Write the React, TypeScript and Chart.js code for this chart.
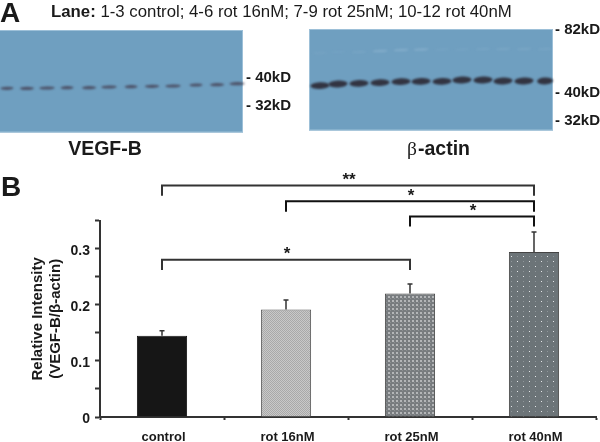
import React, { useEffect, useRef } from "react";
import { Chart, registerables } from "chart.js";

Chart.register(...registerables);

const categories = ["control", "rot 16nM", "rot 25nM", "rot 40nM"];
const meanValues = [0.1447, 0.1915, 0.22, 0.294];
const errorTops = [0.154, 0.2087, 0.237, 0.3297];
const yTickLabels = [0, 0.1, 0.2, 0.3];
const bracketFrom = ["control", "rot 16nM", "rot 25nM", "control"];
const bracketTo = ["rot 40nM", "rot 40nM", "rot 40nM", "rot 25nM"];
const bracketLevel = [0.4128, 0.3849, 0.3577, 0.2805];
const bracketFoot = [0.3945, 0.366, 0.3395, 0.262];
const bracketStars = ["**", "*", "*", "*"];

const vegfLaneX = [7, 27, 47, 67, 89, 109, 131, 152, 173, 196, 217, 237];
const vegfLaneY = [88.3, 88.4, 88, 87.7, 87.7, 87, 86.7, 86.3, 86, 85, 84.7, 83.7];
const actinLaneX = [320, 338, 359, 380, 401, 421, 442, 462, 483, 503, 524, 545];
const actinLaneY = [85.7, 84, 83.3, 82.7, 81.7, 81.3, 81.3, 80, 80, 81, 81, 81];
const actinFaintY = [53, 52, 52, 51, 50, 49.5, 49.5, 49.5, 49, 49, 49, 49];
const actinFaintAlpha = [0.06, 0.05, 0.08, 0.2, 0.2, 0.2, 0.06, 0.06, 0.08, 0.1, 0.1, 0.08];

function makePattern(kind: string, ctx: CanvasRenderingContext2D) {
  const c = document.createElement("canvas");
  const g = c.getContext("2d")!;
  if (kind === "fine") {
    c.width = 2; c.height = 2;
    g.fillStyle = "#c9c9c9"; g.fillRect(0, 0, 2, 2);
    g.fillStyle = "#a9a9a9"; g.fillRect(0, 0, 1, 1); g.fillRect(1, 1, 1, 1);
  } else if (kind === "dither") {
    c.width = 4; c.height = 4;
    g.fillStyle = "#787c7f"; g.fillRect(0, 0, 4, 4);
    g.fillStyle = "#b4b6b8"; g.fillRect(0, 0, 2, 2);
    g.fillStyle = "#8c9092"; g.fillRect(2, 2, 1, 1);
  } else {
    c.width = 12; c.height = 10;
    g.fillStyle = "#6c7478"; g.fillRect(0, 0, 12, 10);
    g.fillStyle = "#e4e6e8"; g.fillRect(1, 1, 1, 1); g.fillRect(7, 6, 1, 1);
    g.fillStyle = "#8e9599"; g.fillRect(7, 1, 1, 1); g.fillRect(1, 6, 1, 1);
  }
  return ctx.createPattern(c, "repeat")!;
}

function drawBlot(ctx: CanvasRenderingContext2D, x: number, y: number, w: number, h: number) {
  ctx.fillStyle = "#6f9fc0";
  ctx.fillRect(x, y, w, h);
  ctx.strokeStyle = "#9dc0d8";
  ctx.lineWidth = 1;
  ctx.strokeRect(x + 0.5, y + 0.5, w - 1, h - 1);
}

const figurePlugin = {
  id: "figure",
  beforeDraw(chart: any) {
    const ctx: CanvasRenderingContext2D = chart.ctx;
    ctx.save();
    ctx.fillStyle = "#fff";
    ctx.fillRect(0, 0, 600, 442);
    drawBlot(ctx, -2, 30, 245, 102.5);
    drawBlot(ctx, 309, 29, 244, 101.5);

    ctx.filter = "blur(0.8px)";
    vegfLaneX.forEach((x, i) => {
      ctx.fillStyle = "rgba(70,66,86,0.82)";
      ctx.beginPath();
      ctx.ellipse(x, vegfLaneY[i], 6.5 + (i % 3) * 0.6, 1.6, -0.02, 0, Math.PI * 2);
      ctx.fill();
    });
    actinLaneX.forEach((x, i) => {
      ctx.fillStyle = "rgba(44,42,54,0.92)";
      ctx.beginPath();
      ctx.ellipse(x, actinLaneY[i], i === 11 ? 8 : 9.6, 3.4, -0.04, 0, Math.PI * 2);
      ctx.fill();
      ctx.fillStyle = `rgba(205,225,240,${actinFaintAlpha[i]})`;
      ctx.beginPath();
      ctx.ellipse(x, actinFaintY[i], 7.5, 1.3, -0.05, 0, Math.PI * 2);
      ctx.fill();
    });
    ctx.filter = "none";

    const text = (s: string, x: number, y: number, font: string, align: CanvasTextAlign = "left") => {
      ctx.font = font;
      ctx.textAlign = align;
      ctx.textBaseline = "middle";
      ctx.fillStyle = "#1a1a1a";
      ctx.fillText(s, x, y);
    };
    const sans = '"Liberation Sans", Arial, sans-serif';
    text("A", 0, 14, `bold 28px ${sans}`);
    text("B", 1, 188, `bold 28px ${sans}`);
    text("Lane:", 51, 12.5, `bold 16.8px ${sans}`);
    const laneW = ctx.measureText("Lane: ").width;
    text("1-3 control; 4-6 rot 16nM; 7-9 rot 25nM; 10-12 rot 40nM", 51 + laneW, 12.5, `16.8px ${sans}`);
    text("- 40kD", 246, 78, `bold 15px ${sans}`);
    text("- 32kD", 246, 105.5, `bold 15px ${sans}`);
    text("- 82kD", 555, 30, `bold 15px ${sans}`);
    text("- 40kD", 555, 93, `bold 15px ${sans}`);
    text("- 32kD", 555, 121, `bold 15px ${sans}`);
    text("VEGF-B", 105, 150, `bold 19.5px ${sans}`, "center");
    text("β", 407, 150, '19.5px "Liberation Serif", serif');
    text("-actin", 418, 150, `bold 19.5px ${sans}`);
    ctx.restore();
  },
  afterDatasetsDraw(chart: any) {
    const ctx: CanvasRenderingContext2D = chart.ctx;
    const xs = chart.scales.x;
    const ys = chart.scales.y;
    ctx.save();
    ctx.strokeStyle = "#333";
    ctx.lineWidth = 1.5;
    categories.forEach((c, i) => {
      const x = xs.getPixelForValue(i);
      const top = ys.getPixelForValue(errorTops[i]);
      const base = ys.getPixelForValue(meanValues[i]);
      ctx.beginPath();
      ctx.moveTo(x, base);
      ctx.lineTo(x, top);
      ctx.moveTo(x - 2.5, top);
      ctx.lineTo(x + 2.5, top);
      ctx.stroke();
    });
    ctx.fillStyle = "#1a1a1a";
    ctx.font = 'bold 17px "Liberation Sans", Arial, sans-serif';
    ctx.textAlign = "center";
    ctx.textBaseline = "middle";
    bracketStars.forEach((s, i) => {
      const a = xs.getPixelForValue(categories.indexOf(bracketFrom[i]));
      const b = xs.getPixelForValue(categories.indexOf(bracketTo[i]));
      ctx.fillText(s, (a + b) / 2 + 1, ys.getPixelForValue(bracketLevel[i]) - 5);
    });
    ctx.restore();
  },
};

export default function App() {
  const ref = useRef<HTMLCanvasElement>(null);
  useEffect(() => {
    document.body.style.margin = "0";
    const canvas = ref.current!;
    const ctx = canvas.getContext("2d")!;
    const barFills: any[] = [
      "#161616",
      makePattern("fine", ctx),
      makePattern("dither", ctx),
      makePattern("dots", ctx),
    ];
    const bracketSets = bracketFrom.map((from, i) => ({
      type: "line" as const,
      data: [
        { x: from, y: bracketFoot[i] },
        { x: from, y: bracketLevel[i] },
        { x: bracketTo[i], y: bracketLevel[i] },
        { x: bracketTo[i], y: bracketFoot[i] },
      ],
      borderColor: i === 1 || i === 2 ? "#111" : "#333",
      borderWidth: 2,
      pointRadius: 0,
      tension: 0,
      clip: false as any,
      order: 0,
    }));
    const chart = new Chart(canvas, {
      type: "bar",
      data: {
        labels: categories,
        datasets: [
          {
            data: meanValues,
            backgroundColor: barFills,
            borderColor: ["#161616", "#555", "#444", "#444"],
            borderWidth: 1,
            barPercentage: 0.405,
            categoryPercentage: 1,
            order: 1,
          } as any,
          ...(bracketSets as any[]),
        ],
      },
      options: {
        responsive: false,
        animation: false,
        devicePixelRatio: 1,
        layout: { padding: { top: 220.7, right: 4, left: 0, bottom: 0 } },
        plugins: { legend: { display: false }, tooltip: { enabled: false }, title: { display: false } },
        scales: {
          x: {
            type: "category",
            afterFit: (s: any) => { s.height = 25; },
            grid: { display: true, drawOnChartArea: false, offset: true, tickLength: 3, tickWidth: 2, tickColor: "#333" },
            border: { color: "#333", width: 2 },
            ticks: {
              color: "#1a1a1a",
              padding: 10,
              labelOffset: 1.5,
              maxRotation: 0,
              font: { family: '"Liberation Sans", Arial, sans-serif', weight: "bold", size: 13 },
            },
          },
          y: {
            min: 0,
            max: 0.35,
            afterFit: (s: any) => { s.width = 100; },
            grid: { display: true, drawOnChartArea: false, tickLength: 5, tickWidth: 2, tickColor: "#333" },
            border: { color: "#333", width: 2 },
            title: {
              display: true,
              text: ["Relative Intensity", "(VEGF-B/β-actin)"],
              color: "#1a1a1a",
              padding: { top: 29, bottom: 0 },
              font: { family: '"Liberation Sans", Arial, sans-serif', weight: "bold", size: 15, lineHeight: 1.2 },
            },
            ticks: {
              stepSize: 0.05,
              padding: 5,
              labelOffset: 2,
              color: "#1a1a1a",
              font: { family: '"Liberation Sans", Arial, sans-serif', weight: "bold", size: 14 },
              callback: (v: any) => {
                const r = Math.round(Number(v) * 100) / 100;
                return yTickLabels.includes(r) ? String(r) : "";
              },
            },
          },
        },
      } as any,
      plugins: [figurePlugin],
    });
    return () => chart.destroy();
  }, []);
  return <canvas ref={ref} width={600} height={442} style={{ display: "block" }} />;
}
